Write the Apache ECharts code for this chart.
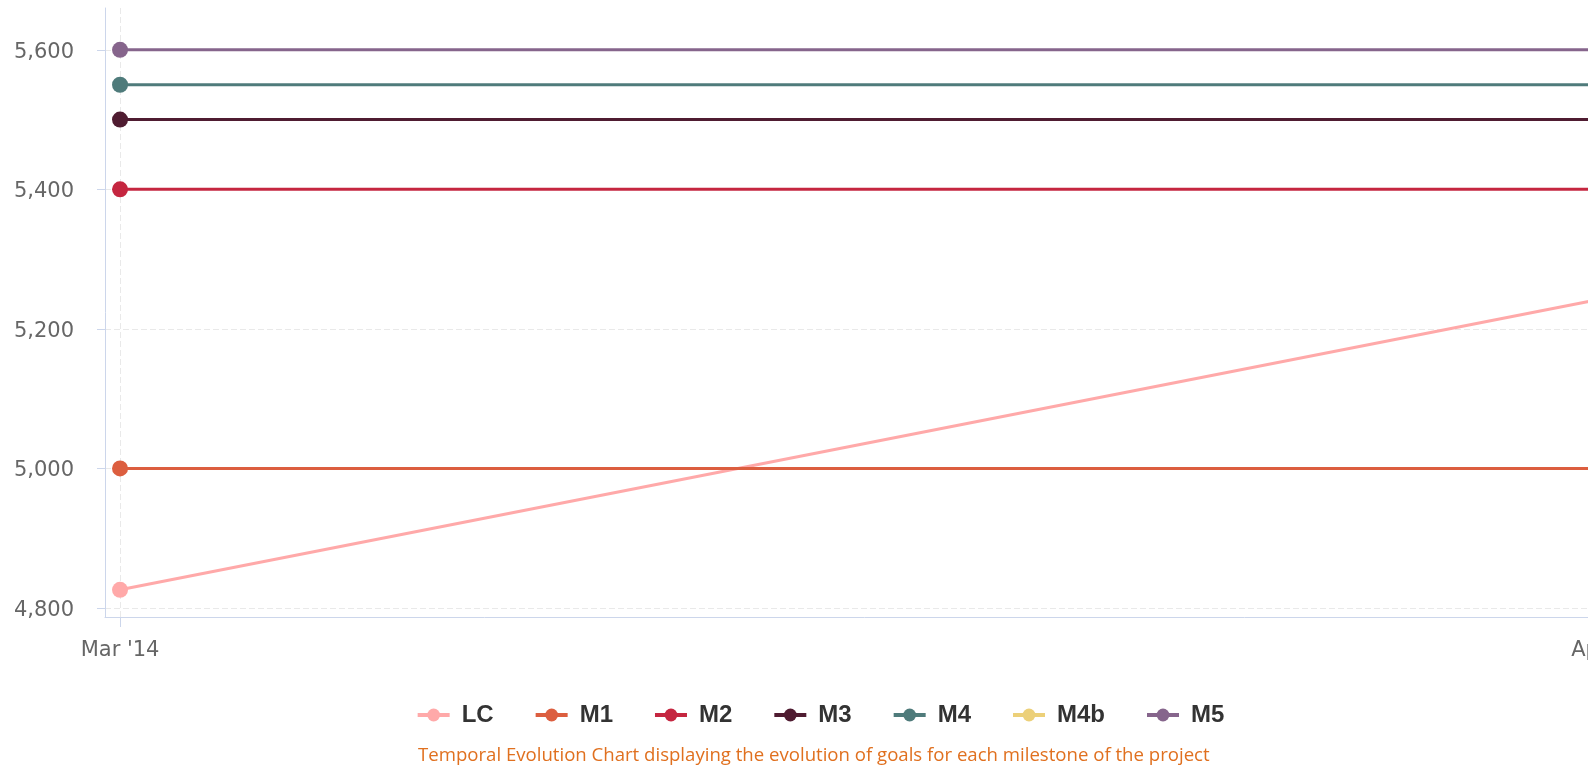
<!DOCTYPE html>
<html>
<head>
<meta charset="utf-8">
<script src="https://cdn.jsdelivr.net/npm/echarts@6/dist/echarts.min.js"></script>
<style>
  html, body { margin: 0; padding: 0; background: #ffffff; overflow: hidden; }
  #chart { width: 1640px; height: 765px; }
</style>
</head>
<body>
<div id="chart"></div>
<script>
// Months on the time axis (index 0, 1, ...)
const months = ["Mar '14", "Apr '14"];
// Goal values per milestone, one value per month
const seriesNames = ['LC', 'M1', 'M2', 'M3', 'M4', 'M4b', 'M5'];
const LC  = [4826, 5245];
const M1  = [5000, 5000];
const M2  = [5400, 5400];
const M3  = [5500, 5500];
const M4  = [5550, 5550];
const M4b = [null, null];
const M5  = [5600, 5600];
// Value-axis tick labels
const yTicks = [4800, 5000, 5200, 5400, 5600];

const seriesValues = [LC, M1, M2, M3, M4, M4b, M5];
const colors = ['#ffa9a9', '#dc5e3f', '#c52640', '#4f1c31', '#4f7b7b', '#ecd079', '#86658c'];

const chart = echarts.init(document.getElementById('chart'), null, { renderer: 'canvas' });

const axisColor = '#ccd6eb';
const gridLine = { show: true, lineStyle: { color: '#e9e9e9', width: 1, type: [6, 3] } };
const monthIdx = months.map((m, i) => i);

const option = {
  animation: false,
  color: colors,
  grid: { left: 105, top: 8, height: 609, right: 16, containLabel: false, outerBoundsMode: 'none' },
  xAxis: {
    type: 'value',
    min: -0.0101,
    max: 1.0101,
    axisLine: { show: true, onZero: false, lineStyle: { color: axisColor, width: 1 } },
    axisTick: { show: true, length: 10, customValues: monthIdx, lineStyle: { color: axisColor } },
    axisLabel: {
      customValues: monthIdx,
      formatter: v => months[Math.round(v)] || '',
      margin: 23,
      color: '#666666',
      fontFamily: 'DejaVu Sans',
      fontSize: 21
    },
    splitLine: gridLine
  },
  yAxis: {
    type: 'value',
    min: 4787,
    max: 5660,
    axisLine: { show: true, onZero: false, lineStyle: { color: axisColor, width: 1 } },
    axisTick: { show: true, length: 8, customValues: yTicks, lineStyle: { color: axisColor } },
    axisLabel: {
      customValues: yTicks,
      formatter: v => Number(v).toLocaleString('en-US'),
      margin: 31,
      verticalAlign: 'top',
      lineHeight: 5,
      color: '#666666',
      fontFamily: 'DejaVu Sans',
      fontSize: 21
    },
    splitLine: gridLine
  },
  legend: {
    left: 'center',
    top: 698,
    itemWidth: 32,
    itemHeight: 16,
    itemGap: 40,
    data: seriesNames,
    lineStyle: { width: 4 },
    textStyle: {
      fontFamily: 'Liberation Sans',
      fontWeight: 'bold',
      fontSize: 24,
      color: '#333333',
      padding: [0, 0, 0, 7]
    }
  },
  title: {
    text: 'Temporal Evolution Chart displaying the evolution of goals for each milestone of the project',
    left: 418,
    top: 746,
    padding: 0,
    textStyle: {
      fontFamily: 'Open Sans',
      fontWeight: 'normal',
      fontSize: 18.6,
      color: '#e0701f'
    }
  },
  series: seriesNames.map((name, i) => ({
    name: name,
    type: 'line',
    data: seriesValues[i].map((v, k) => [k, v]),
    symbol: 'circle',
    symbolSize: 16,
    showSymbol: true,
    lineStyle: { width: 3 },
    itemStyle: { color: colors[i] },
    z: 2 + i
  }))
};

chart.setOption(option);
</script>
</body>
</html>
